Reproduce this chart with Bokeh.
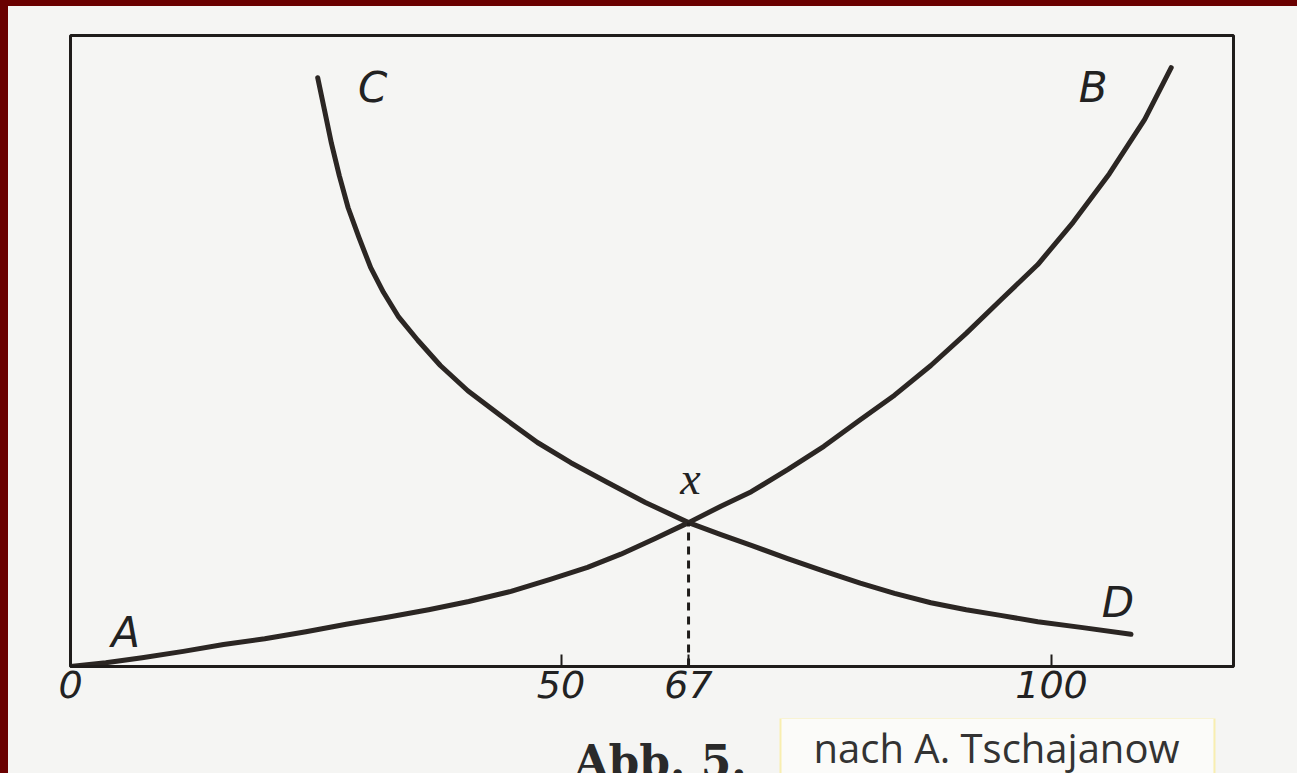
from bokeh.plotting import figure
from bokeh.models import Range1d, FixedTicker, Label, Spacer
from bokeh.layouts import column, row
from bokeh.embed import file_html
from bokeh.resources import INLINE

# ---- data (x: axis units, y: relative height 0..100) ----
# rising curve A -> B
ab_x = [0.0, 3.6, 7.3, 11.5, 15.6, 19.8, 24.0, 28.1, 32.3, 36.5, 40.6, 44.9,
        48.9, 52.7, 56.1, 59.6, 63.0, 66.3, 69.4, 73.1, 76.8, 80.4, 84.0,
        87.7, 91.3, 94.9, 98.6, 102.2, 105.9, 109.5, 112.2]
ab_y = [0.0, 0.6, 1.4, 2.4, 3.5, 4.4, 5.5, 6.7, 7.8, 9.0, 10.3, 11.9,
        13.8, 15.7, 17.8, 20.3, 22.8, 25.4, 27.7, 31.2, 34.9, 39.0, 43.0,
        47.7, 52.8, 58.2, 63.7, 70.4, 78.1, 86.7, 94.9]
# falling curve C -> D
cd_x = [25.2, 25.9, 26.6, 27.4, 28.3, 29.4, 30.6, 31.9, 33.4, 35.4, 37.7,
        40.5, 43.8, 47.6, 51.0, 54.7, 58.6, 63.0, 66.3, 69.4, 73.1, 76.8,
        80.5, 84.0, 87.7, 91.3, 94.8, 98.6, 103.0, 108.1]
cd_y = [93.3, 88.1, 82.9, 77.8, 72.7, 68.0, 63.2, 59.3, 55.5, 51.7, 47.7,
        43.7, 39.8, 35.5, 32.3, 29.2, 26.0, 22.8, 20.9, 19.2, 17.1, 15.1,
        13.2, 11.6, 10.1, 9.0, 8.1, 7.1, 6.2, 5.1]
# intersection point x
x_star = 63.0
y_star = 22.8
# x axis ticks (schematic axis of the original drawing)
tick_positions = [0, 50, x_star, 100]
tick_labels = ["0", "50", "67", "100"]
caption = "Abb. 5."
source_note = "nach A. Tschajanow"

# ---- styling ----
PAPER = "#f5f5f3"
INK = "#1f1c1a"
CURVE = "#2b2623"
MAROON = "#6a0000"

p = figure(width=1289, height=712, output_backend="svg", toolbar_location=None,
           title=None,
           x_range=Range1d(0, 118.55), y_range=Range1d(0, 100),
           y_axis_location=None, min_border_left=62, min_border_right=64,
           min_border_top=29, min_border_bottom=52)
p.background_fill_color = PAPER
p.border_fill_color = PAPER
p.outline_line_color = INK
p.outline_line_width = 3
p.xgrid.visible = False
p.ygrid.visible = False

ax = p.xaxis[0]
ax.ticker = FixedTicker(ticks=tick_positions)
ax.major_label_overrides = {t: l for t, l in zip(tick_positions, tick_labels)}
ax.axis_line_color = INK
ax.axis_line_width = 3
ax.major_tick_in = 12
ax.major_tick_out = 0
ax.major_tick_line_width = 2
ax.major_tick_line_color = INK
ax.minor_tick_line_color = None
ax.major_label_standoff = 4
ax.major_label_text_font = "DejaVu Sans"
ax.major_label_text_font_style = "italic"
ax.major_label_text_font_size = "38px"
ax.major_label_text_color = "#222222"

# curves
p.line(ab_x, ab_y, line_color=CURVE, line_width=5, line_join="round", line_cap="round")
p.line(cd_x, cd_y, line_color=CURVE, line_width=5, line_join="round", line_cap="round")
# dashed drop line from intersection to the axis
p.line([x_star, x_star], [0, y_star], line_color=INK, line_width=3, line_dash="8 6")

letter_style = dict(text_font="DejaVu Sans", text_font_style="italic",
                    text_font_size="42px", text_color="#222222",
                    text_align="center", text_baseline="middle")
p.add_layout(Label(x=cd_x[0], y=cd_y[0], text="C", x_offset=55, y_offset=-10, **letter_style))
p.add_layout(Label(x=ab_x[-1], y=ab_y[-1], text="B", x_offset=-78, y_offset=-20, **letter_style))
p.add_layout(Label(x=ab_x[0], y=ab_y[0], text="A", x_offset=55, y_offset=34, **letter_style))
p.add_layout(Label(x=cd_x[-1], y=cd_y[-1], text="D", x_offset=-13, y_offset=32, **letter_style))
p.add_layout(Label(x=x_star, y=y_star, text="x", x_offset=2, y_offset=44,
                   text_font="Liberation Serif", text_font_style="italic",
                   text_font_size="46px", text_color="#222222",
                   text_align="center", text_baseline="middle"))

# caption strip under the chart; its frame lines up with the chart frame and
# its ranges are page pixels
cap = figure(width=1289, height=55, output_backend="svg", toolbar_location=None,
             title=None,
             x_range=Range1d(70, 1233), y_range=Range1d(773, 718),
             x_axis_location=None, y_axis_location=None,
             min_border_left=62, min_border_right=64, min_border_top=0, min_border_bottom=0)
cap.background_fill_color = PAPER
cap.border_fill_color = PAPER
cap.outline_line_color = None
cap.xgrid.visible = False
cap.ygrid.visible = False
cap.add_layout(Label(x=660, y=761, text=caption,
                     text_font="DejaVu Serif", text_font_style="bold",
                     text_font_size="44px", text_color="#2a2a2a",
                     text_align="center", text_baseline="alphabetic"))
cap.add_layout(Label(x=780, y=756, text=source_note,
                     text_font="Open Sans", text_font_size="40px", text_color="#333333",
                     text_align="left", text_baseline="alphabetic",
                     background_fill_color="#fbfbf9", border_line_color="#f8eeb0",
                     border_line_width=2,
                     padding=dict(left=33, right=35, top=2, bottom=20)))

top_strip = Spacer(width=1297, height=6, styles={"background-color": MAROON})
left_strip = Spacer(width=8, height=767, styles={"background-color": MAROON})
body = column(p, cap, spacing=0, styles={"background-color": PAPER})
layout = column(top_strip, row(left_strip, body, spacing=0), spacing=0,
                styles={"background-color": PAPER})

open("out.html", "w").write(file_html(layout, INLINE))
